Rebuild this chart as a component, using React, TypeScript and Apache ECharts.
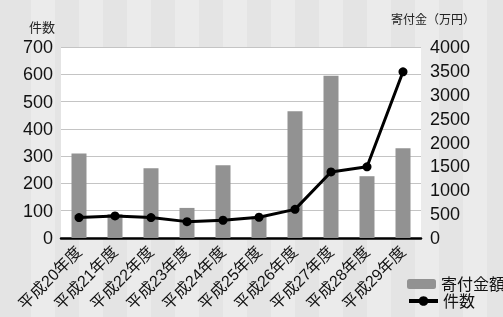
import React, { useEffect, useRef } from "react";
import * as echarts from "echarts";

const categories = ["平成20年度", "平成21年度", "平成22年度", "平成23年度", "平成24年度", "平成25年度", "平成26年度", "平成27年度", "平成28年度", "平成29年度"];
const donationAmount = [1770, 500, 1462, 630, 1525, 450, 2657, 3398, 1294, 1881];
const donationCount = [75, 81, 75, 60, 65, 76, 105, 242, 261, 609];
const leftTicks = { min: 0, max: 700, interval: 100 };
const rightTicks = { min: 0, max: 4000, interval: 500 };

const FONT = "'Liberation Sans', 'Noto Sans CJK JP', sans-serif";

export default function App() {
  const ref = useRef<HTMLDivElement>(null);
  useEffect(() => {
    if (!ref.current) return;
    const chart = echarts.init(ref.current, undefined, { renderer: "svg" });
    const legendBase = {
      orient: "vertical",
      left: 407,
      padding: 0,
      itemWidth: 29,
      itemHeight: 10,
      textStyle: { fontSize: 16, color: "#111", fontFamily: FONT },
    };
    chart.setOption({
      animation: false,
      backgroundColor: "transparent",
      textStyle: { fontFamily: FONT },
      grid: {
        left: 61,
        right: 82,
        top: 47,
        bottom: 79,
        show: true,
        backgroundColor: "#ffffff",
        borderWidth: 0,
      },
      legend: [
        { ...legendBase, top: 276, data: ["寄付金額"] },
        {
          ...legendBase,
          top: 293,
          itemHeight: 12,
          lineStyle: { width: 4, color: "#000" },
          itemStyle: { color: "#000" },
          data: ["件数"],
        },
      ],
      xAxis: {
        type: "category",
        data: categories,
        axisLine: { show: true, lineStyle: { color: "#000", width: 2.5 } },
        axisTick: { show: false },
        axisLabel: { interval: 0, rotate: 45, fontSize: 16, color: "#111", margin: 11, fontFamily: FONT },
        splitLine: { show: false },
      },
      yAxis: [
        {
          type: "value",
          min: leftTicks.min,
          max: leftTicks.max,
          interval: leftTicks.interval,
          axisLine: { show: false },
          axisTick: { show: false },
          axisLabel: { fontSize: 18, color: "#111", margin: 8, fontFamily: FONT, formatter: (v: number) => String(v) },
          splitLine: { show: true, lineStyle: { color: "#c4c4c4", width: 1 } },
        },
        {
          type: "value",
          min: rightTicks.min,
          max: rightTicks.max,
          interval: rightTicks.interval,
          axisLine: { show: false },
          axisTick: { show: false },
          axisLabel: { fontSize: 18, color: "#111", margin: 9, fontFamily: FONT, formatter: (v: number) => String(v) },
          splitLine: { show: false },
        },
      ],
      graphic: [
        {
          type: "text",
          right: 503 - 55,
          top: 21,
          style: { text: "件数", fill: "#222", font: `13px ${FONT}` },
        },
        {
          type: "text",
          left: 391,
          top: 14,
          style: { text: "寄付金（万円）", fill: "#222", font: `12px ${FONT}` },
        },
      ],
      series: [
        {
          name: "寄付金額",
          type: "bar",
          yAxisIndex: 1,
          data: donationAmount,
          barWidth: 15,
          itemStyle: { color: "#929292" },
        },
        {
          name: "件数",
          type: "line",
          yAxisIndex: 0,
          data: donationCount,
          symbol: "circle",
          symbolSize: 9,
          lineStyle: { color: "#000", width: 3 },
          itemStyle: { color: "#000" },
        },
      ],
    });
    return () => chart.dispose();
  }, []);
  return (
    <div
      style={{
        position: "fixed",
        left: 0,
        top: 0,
        width: 503,
        height: 317,
        background: "repeating-linear-gradient(90deg, #e4e4e4 0px, #e4e4e4 24px, #ebebeb 24px, #ebebeb 48px)",
        backgroundPosition: "7px 0",
      }}
    >
      <div ref={ref} style={{ width: 503, height: 317 }} />
    </div>
  );
}
